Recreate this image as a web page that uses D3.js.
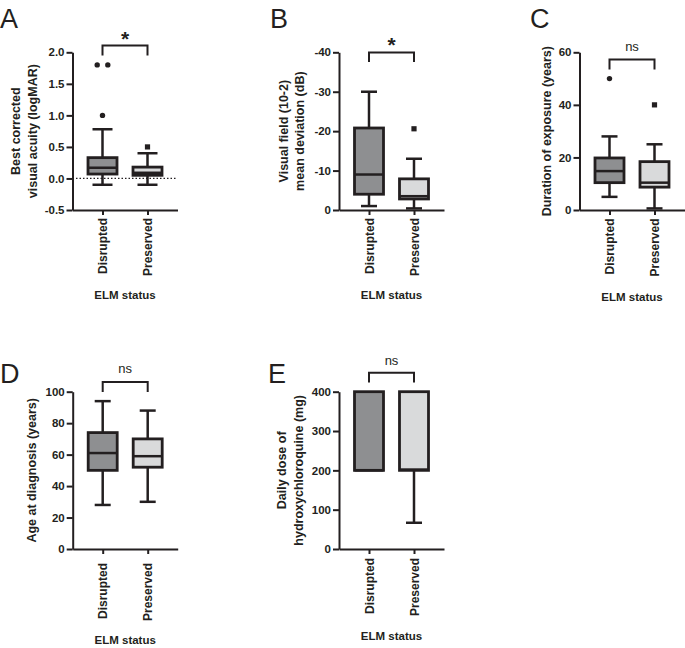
<!DOCTYPE html>
<html>
<head>
<meta charset="utf-8">
<script src="https://cdn.jsdelivr.net/npm/d3@7"></script>
<style>
  html, body { margin: 0; padding: 0; background: #ffffff; }
  svg { display: block; }
  text { font-family: "Liberation Sans", Arial, Helvetica, sans-serif; fill: #231f20; }
</style>
</head>
<body>
<svg id="chart" width="685" height="648"></svg>
<script>
// ---------- data ----------
const categories = ["Disrupted", "Preserved"];

// box stats: [min, q1, median, q3, max]
const bcvaBox = [[-0.1, 0.07, 0.17, 0.33, 0.78], [-0.1, 0.05, 0.09, 0.18, 0.40]];
const bcvaOutliers = [[1.8, 1.8, 1.0], [0.5]];
const bcvaTicks = [-0.5, 0, 0.5, 1.0, 1.5, 2.0];

const vfBox = [[-1, -4, -9, -20.8, -30], [-0.4, -2.8, -3.5, -7.9, -13]];
const vfOutliers = [[], [-20.6]];
const vfTicks = [0, -10, -20, -30, -40];

const durBox = [[5, 10.4, 14.8, 19.8, 28], [0.6, 8.7, 10.4, 18.4, 25]];
const durOutliers = [[50], [40]];
const durTicks = [0, 20, 40, 60];

const ageBox = [[28, 50, 61, 74, 94], [30, 52, 59, 70, 88]];
const ageOutliers = [[], []];
const ageTicks = [0, 20, 40, 60, 80, 100];

const doseBox = [[200, 200, 200, 400, 400], [66.7, 200, 202, 400, 400]];
const doseOutliers = [[], []];
const doseTicks = [0, 100, 200, 300, 400];

const panelLetters = ["A", "B", "C", "D", "E"];
const yTitles = [
  ["Best corrected", "visual acuity (logMAR)"],
  ["Visual field (10-2)", "mean deviation (dB)"],
  ["Duration of exposure (years)"],
  ["Age at diagnosis (years)"],
  ["Daily dose of", "hydroxychloroquine (mg)"]
];
const sigLabels = ["*", "*", "ns", "ns", "ns"];
const xTitle = "ELM status";

// ---------- drawing ----------
const INK = "#231f20";
const fills = ["#8e8f91", "#d9dadb"];
const svg = d3.select("#chart");
svg.append("rect").attr("width", 685).attr("height", 648).attr("fill", "#fff");

function drawPanel(cfg) {
  const g = svg.append("g");
  const y = d3.scaleLinear().domain(cfg.domain).range([cfg.bottom, cfg.top]);
  const x = d3.scalePoint().domain(categories).range([cfg.axisX, cfg.axisX + 105]).padding(2 / 3);

  // panel letter
  g.append("text").attr("x", cfg.letterX).attr("y", cfg.letterY)
    .style("font-size", "27px").text(cfg.letter);

  // reference dotted line
  if (cfg.zeroLine) {
    g.append("line")
      .attr("x1", cfg.axisX).attr("x2", cfg.axisX + 105)
      .attr("y1", y(0)).attr("y2", y(0))
      .attr("stroke", INK).attr("stroke-width", 1.3)
      .attr("stroke-dasharray", "1.5,2");
  }

  // y axis
  const ya = g.append("g").attr("transform", `translate(${cfg.axisX},0)`)
    .call(d3.axisLeft(y).tickValues(cfg.ticks).tickSize(6).tickSizeOuter(0)
      .tickPadding(2).tickFormat(cfg.fmt));
  ya.select(".domain").attr("stroke", INK).attr("stroke-width", 2);
  ya.selectAll(".tick line").attr("stroke", INK).attr("stroke-width", 2);
  ya.selectAll(".tick text").attr("fill", INK)
    .style("font-size", "11.5px").style("font-weight", "bold")
    .style("font-family", "'Liberation Sans', Arial, sans-serif");

  // x axis
  const xa = g.append("g").attr("transform", `translate(0,${cfg.bottom})`)
    .call(d3.axisBottom(x).tickSize(5).tickSizeOuter(0));
  xa.select(".domain").attr("stroke", INK).attr("stroke-width", 2);
  xa.selectAll(".tick line").attr("stroke", INK).attr("stroke-width", 2);
  xa.selectAll(".tick text")
    .attr("transform", "rotate(-90)")
    .attr("x", -cfg.xLabelGap).attr("y", 0).attr("dy", "0.35em")
    .attr("fill", INK)
    .style("text-anchor", "end")
    .style("font-size", "12px").style("font-weight", "bold")
    .style("font-family", "'Liberation Sans', Arial, sans-serif");

  const bw = 29, cw = cfg.capW;
  cfg.box.forEach((s, i) => {
    const cx = x(categories[i]);
    const [mn, q1, md, q3, mx] = s;
    const bg = g.append("g");
    // whiskers
    if (mx > q3 || (cfg.domain[0] > cfg.domain[1] && mx < q3)) {
      bg.append("line").attr("x1", cx).attr("x2", cx).attr("y1", y(q3)).attr("y2", y(mx))
        .attr("stroke", INK).attr("stroke-width", 2.5);
      bg.append("line").attr("x1", cx - cw / 2).attr("x2", cx + cw / 2).attr("y1", y(mx)).attr("y2", y(mx))
        .attr("stroke", INK).attr("stroke-width", 2.5);
    }
    if (mn !== q1) {
      bg.append("line").attr("x1", cx).attr("x2", cx).attr("y1", y(q1)).attr("y2", y(mn))
        .attr("stroke", INK).attr("stroke-width", 2.5);
      bg.append("line").attr("x1", cx - cw / 2).attr("x2", cx + cw / 2).attr("y1", y(mn)).attr("y2", y(mn))
        .attr("stroke", INK).attr("stroke-width", 2.5);
    }
    const yTopBox = Math.min(y(q1), y(q3)), yBotBox = Math.max(y(q1), y(q3));
    bg.append("rect").attr("x", cx - bw / 2).attr("width", bw)
      .attr("y", yTopBox).attr("height", yBotBox - yTopBox)
      .attr("fill", fills[i]).attr("stroke", INK).attr("stroke-width", 2.8);
    bg.append("line").attr("x1", cx - bw / 2).attr("x2", cx + bw / 2).attr("y1", y(md)).attr("y2", y(md))
      .attr("stroke", INK).attr("stroke-width", 2.5);

    // outliers (duplicates spread side by side)
    const groups = d3.group(cfg.outliers[i], v => v);
    groups.forEach((vals, v) => {
      vals.forEach((_, k) => {
        const ox = cx + (k - (vals.length - 1) / 2) * 10.6;
        if (i === 0) {
          bg.append("circle").attr("cx", ox).attr("cy", y(v)).attr("r", 2.7).attr("fill", INK);
        } else {
          bg.append("rect").attr("x", ox - 2.6).attr("y", y(v) - 2.6)
            .attr("width", 5.2).attr("height", 5.2).attr("fill", INK);
        }
      });
    });
  });

  // significance bracket
  const c1 = x(categories[0]), c2 = x(categories[1]);
  g.append("path")
    .attr("d", `M${c1},${cfg.brEnd}V${cfg.brTop}H${c2}V${cfg.brEnd}`)
    .attr("fill", "none").attr("stroke", INK).attr("stroke-width", 2);
  const sig = g.append("text").attr("x", (c1 + c2) / 2).attr("y", cfg.sigY)
    .attr("text-anchor", "middle").text(cfg.sig);
  if (cfg.sig === "*") sig.style("font-size", "21px").style("font-weight", "bold");
  else sig.style("font-size", "13px");

  // y title
  const nLines = cfg.title.length;
  cfg.title.forEach((t, k) => {
    g.append("text")
      .attr("transform", `translate(${cfg.titleX[k]},${(cfg.top + cfg.bottom) / 2}) rotate(-90)`)
      .attr("text-anchor", "middle")
      .style("font-size", "12.5px").style("font-weight", "bold")
      .text(t);
  });

  // x title
  g.append("text").attr("x", cfg.axisX + 52.5).attr("y", cfg.xTitleY)
    .attr("text-anchor", "middle")
    .style("font-size", "11.5px").style("font-weight", "bold")
    .text(xTitle);
}

const f1 = d => d.toFixed(1);
const f0 = d => String(d);

drawPanel({ letter: panelLetters[0], letterX: 0, letterY: 28, axisX: 72.5, top: 52.3, bottom: 210,
  domain: [-0.5, 2.0], ticks: bcvaTicks, fmt: f1, box: bcvaBox, outliers: bcvaOutliers,
  zeroLine: true, capW: 20, xLabelGap: 8, brTop: 45.5, brEnd: 55.5, sig: sigLabels[0], sigY: 46,
  title: yTitles[0], titleX: [19.5, 37], xTitleY: 299 });

drawPanel({ letter: panelLetters[1], letterX: 270, letterY: 28, axisX: 339, top: 52.3, bottom: 210,
  domain: [0, -40], ticks: vfTicks, fmt: f0, box: vfBox, outliers: vfOutliers,
  zeroLine: false, capW: 16, xLabelGap: 8, brTop: 52.5, brEnd: 62, sig: sigLabels[1], sigY: 52,
  title: yTitles[1], titleX: [287.5, 304], xTitleY: 299 });

drawPanel({ letter: panelLetters[2], letterX: 530, letterY: 28, axisX: 579.5, top: 52.3, bottom: 210,
  domain: [0, 60], ticks: durTicks, fmt: f0, box: durBox, outliers: durOutliers,
  zeroLine: false, capW: 16, xLabelGap: 8.5, brTop: 59.5, brEnd: 69.5, sig: sigLabels[2], sigY: 50.5,
  title: yTitles[2], titleX: [551], xTitleY: 300.5 });

drawPanel({ letter: panelLetters[3], letterX: 0, letterY: 383, axisX: 72.7, top: 391.7, bottom: 549,
  domain: [0, 100], ticks: ageTicks, fmt: f0, box: ageBox, outliers: ageOutliers,
  zeroLine: false, capW: 16, xLabelGap: 14, brTop: 382, brEnd: 392, sig: sigLabels[3], sigY: 373,
  title: yTitles[3], titleX: [36], xTitleY: 643.5 });

drawPanel({ letter: panelLetters[4], letterX: 268, letterY: 383, axisX: 339, top: 391.7, bottom: 549,
  domain: [0, 400], ticks: doseTicks, fmt: f0, box: doseBox, outliers: doseOutliers,
  zeroLine: false, capW: 16, xLabelGap: 9, brTop: 372.7, brEnd: 382.5, sig: sigLabels[4], sigY: 365,
  title: yTitles[4], titleX: [286, 302.5], xTitleY: 639.5 });
</script>
</body>
</html>
